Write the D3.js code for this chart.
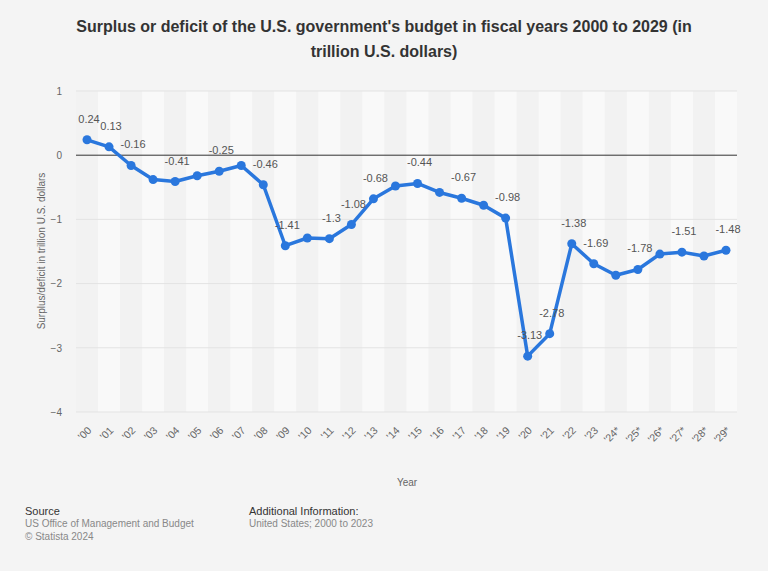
<!DOCTYPE html>
<html><head><meta charset="utf-8">
<script src="https://cdn.jsdelivr.net/npm/d3@7"></script>
<style>body{margin:0;background:#f4f4f4;}svg{display:block;font-family:"Liberation Sans",Arial,Helvetica,sans-serif;}</style>
</head><body>
<script>
const years = ["'00","'01","'02","'03","'04","'05","'06","'07","'08","'09","'10","'11","'12","'13","'14","'15","'16","'17","'18","'19","'20","'21","'22","'23","'24*","'25*","'26*","'27*","'28*","'29*"];
const values = [0.24,0.13,-0.16,-0.38,-0.41,-0.32,-0.25,-0.16,-0.46,-1.41,-1.29,-1.3,-1.08,-0.68,-0.48,-0.44,-0.58,-0.67,-0.78,-0.98,-3.13,-2.78,-1.38,-1.69,-1.87,-1.78,-1.54,-1.51,-1.57,-1.48];
const labelled = [true,true,true,false,true,false,true,false,true,true,false,true,true,true,false,true,false,true,false,true,true,true,true,true,false,true,false,true,false,true];
const yTicks = [1,0,-1,-2,-3,-4];

const W=768,H=571;
const svg=d3.select("body").append("svg").attr("width",W).attr("height",H);
svg.append("rect").attr("width",W).attr("height",H).attr("fill","#f4f4f4");

const x=d3.scaleBand().domain(years).range([76,737]);
const y=d3.scaleLinear().domain([-4,1]).range([412,91]);

// stripes
svg.append("g").selectAll("rect").data(years).join("rect")
  .attr("x",d=>x(d)).attr("width",x.bandwidth()).attr("y",y(1)).attr("height",y(-4)-y(1))
  .attr("fill",(d,i)=>i%2===0?"#f2f2f2":"#f9f9f9");

// grid
svg.append("g").selectAll("line").data(yTicks.filter(t=>t!==0)).join("line")
  .attr("x1",76).attr("x2",737).attr("y1",d=>y(d)).attr("y2",d=>y(d))
  .attr("stroke","#e3e3e3").attr("stroke-width",1);
svg.append("line").attr("x1",76).attr("x2",737).attr("y1",y(0)).attr("y2",y(0))
  .attr("stroke","#333").attr("stroke-width",1);

// y axis
const yAxis=svg.append("g").attr("transform","translate(66,0)")
  .call(d3.axisLeft(y).tickValues(yTicks).tickSize(0).tickFormat(d3.format("d")));
yAxis.select(".domain").remove();
yAxis.selectAll("text").attr("fill","#666").attr("font-size",10).attr("x",-4);

// x axis
const xAxis=svg.append("g").attr("transform","translate(0,422)")
  .call(d3.axisBottom(x).tickSize(0));
xAxis.select(".domain").remove();
xAxis.selectAll("text").attr("fill","#666").attr("font-size",10.5)
  .attr("text-anchor","end").attr("dy",0).attr("y",0)
  .attr("transform","translate(5,9) rotate(-45)");

// line
const cx=d=>x(d)+x.bandwidth()/2;
const line=d3.line().x((d,i)=>cx(years[i])).y(d=>y(d));
svg.append("path").datum(values).attr("d",line).attr("fill","none")
  .attr("stroke","#2a77dd").attr("stroke-width",3.5).attr("stroke-linejoin","round");
svg.append("g").selectAll("circle").data(values).join("circle")
  .attr("cx",(d,i)=>cx(years[i])).attr("cy",d=>y(d)).attr("r",4.5).attr("fill","#2a77dd");

// labels
svg.append("g").selectAll("text").data(values.map((v,i)=>({v,i})).filter(d=>labelled[d.i])).join("text")
  .attr("x",d=>cx(years[d.i])+2).attr("y",d=>y(d.v)-17)
  .attr("text-anchor","middle").attr("font-size",11).attr("fill","#555")
  .text(d=>String(d.v));

// title
const title=svg.append("text").attr("x",W/2).attr("text-anchor","middle").attr("font-size",16)
  .attr("font-weight","bold").attr("fill","#333");
title.append("tspan").attr("x",W/2).attr("y",32).text("Surplus or deficit of the U.S. government's budget in fiscal years 2000 to 2029 (in");
title.append("tspan").attr("x",W/2).attr("y",57).text("trillion U.S. dollars)");

// axis titles
svg.append("text").attr("transform","translate(45,251) rotate(-90)").attr("text-anchor","middle")
  .attr("font-size",10).attr("fill","#666").text("Surplus/deficit in trillion U.S. dollars");
svg.append("text").attr("x",407).attr("y",486).attr("text-anchor","middle")
  .attr("font-size",10).attr("fill","#666").text("Year");

// footer
const f=svg.append("g").attr("font-size",10);
f.append("text").attr("x",25).attr("y",515).attr("fill","#333").attr("font-size",11).text("Source");
f.append("text").attr("x",25).attr("y",527).attr("fill","#888").text("US Office of Management and Budget");
f.append("text").attr("x",25).attr("y",540).attr("fill","#888").text("© Statista 2024");
f.append("text").attr("x",249).attr("y",515).attr("fill","#333").attr("font-size",11).text("Additional Information:");
f.append("text").attr("x",249).attr("y",527).attr("fill","#888").text("United States; 2000 to 2023");
</script>
</body></html>
